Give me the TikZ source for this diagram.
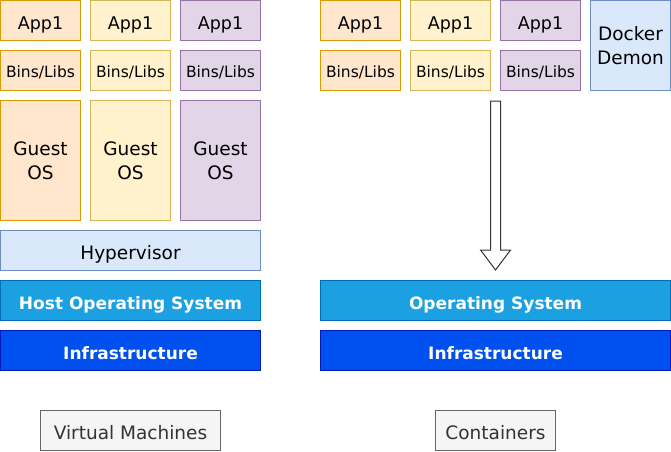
\documentclass[tikz,border=0pt]{standalone}
\usepackage{fontspec}
\setmainfont{DejaVu Sans}
\usetikzlibrary{calc}
\definecolor{orfill}{HTML}{FFE6CC}\definecolor{ordraw}{HTML}{D79B00}
\definecolor{yefill}{HTML}{FFF2CC}\definecolor{yedraw}{HTML}{D6B656}
\definecolor{pufill}{HTML}{E1D5E7}\definecolor{pudraw}{HTML}{9673A6}
\definecolor{blfill}{HTML}{DAE8FC}\definecolor{bldraw}{HTML}{6C8EBF}
\definecolor{osfill}{HTML}{1BA1E2}\definecolor{osdraw}{HTML}{006EAF}
\definecolor{infill}{HTML}{0050EF}\definecolor{indraw}{HTML}{001DBC}
\definecolor{grfill}{HTML}{F5F5F5}\definecolor{grdraw}{HTML}{666666}
\definecolor{grtext}{HTML}{333333}
\tikzset{
  box/.style={draw, line width=1pt, inner sep=0pt, align=center, minimum width=80pt, minimum height=40pt},
  oneline/.style={text height=18.5pt, text depth=0pt},
  orbox/.style={box, fill=orfill, draw=ordraw},
  yebox/.style={box, fill=yefill, draw=yedraw},
  pubox/.style={box, fill=pufill, draw=pudraw},
  blbox/.style={box, fill=blfill, draw=bldraw},
  osbox/.style={box, oneline, fill=osfill, draw=osdraw, text=white, font=\fontsize{17}{20}\selectfont\bfseries},
  inbox/.style={box, oneline, fill=infill, draw=indraw, text=white, font=\fontsize{17}{20}\selectfont\bfseries},
  grbox/.style={box, oneline, fill=grfill, draw=grdraw, text=grtext, font=\fontsize{18.5}{22}\selectfont},
  apptxt/.style={oneline, font=\fontsize{17.5}{20}\selectfont},
  bintxt/.style={text height=13pt, text depth=0pt, font=\fontsize{15.5}{18}\selectfont},
  bigtxt/.style={font=\fontsize{18.5}{24}\selectfont},
  hyptxt/.style={oneline, font=\fontsize{18.5}{22}\selectfont},
}
\begin{document}
\begin{tikzpicture}[x=1pt,y=-1pt]
\useasboundingbox (0,0) rectangle (671,451);
% Virtual machines
\node[orbox, apptxt] (appA) at (40.5,20.5) {App1};
\node[yebox, apptxt] (appB) at (130.5,20.5) {App1};
\node[pubox, apptxt] (appC) at (220.5,20.5) {App1};
\node[orbox, bintxt] (binA) at (40.5,70.5) {Bins/Libs};
\node[yebox, bintxt] (binB) at (130.5,70.5) {Bins/Libs};
\node[pubox, bintxt] (binC) at (220.5,70.5) {Bins/Libs};
\node[orbox, bigtxt, minimum height=120pt] (osA) at (40.5,160.5) {Guest\\OS};
\node[yebox, bigtxt, minimum height=120pt] (osB) at (130.5,160.5) {Guest\\OS};
\node[pubox, bigtxt, minimum height=120pt] (osC) at (220.5,160.5) {Guest\\OS};
\node[blbox, hyptxt, minimum width=260pt] (hyp) at (130.5,250.5) {Hypervisor};
\node[osbox, minimum width=260pt] (hostos) at (130.5,300.5) {Host Operating System};
\node[inbox, minimum width=260pt] (infraL) at (130.5,350.5) {Infrastructure};
\node[grbox, minimum width=180pt] (vm) at (130.5,430.5) {Virtual Machines};
% Containers
\node[orbox, apptxt] (cappA) at (360.5,20.5) {App1};
\node[yebox, apptxt] (cappB) at (450.5,20.5) {App1};
\node[pubox, apptxt] (cappC) at (540.5,20.5) {App1};
\node[orbox, bintxt] (cbinA) at (360.5,70.5) {Bins/Libs};
\node[yebox, bintxt] (cbinB) at (450.5,70.5) {Bins/Libs};
\node[pubox, bintxt] (cbinC) at (540.5,70.5) {Bins/Libs};
\node[blbox, bigtxt, minimum height=90pt] (docker) at (630.5,45.5) {Docker\\Demon};
\node[osbox, minimum width=350pt] (os) at (495.5,300.5) {Operating System};
\node[inbox, minimum width=350pt] (infraR) at (495.5,350.5) {Infrastructure};
\node[grbox, minimum width=120pt] (ct) at (495.5,430.5) {Containers};
% block arrow
\coordinate (arrTop) at ($(cbinB.south east)!0.5!(cbinC.south west)+(0,10)$);
\coordinate (arrTip) at ($(os.north)+(0,-10)$);
\draw[line width=1pt, draw=grtext, fill=white]
  ($(arrTop)+(-5,0)$) -- ($(arrTop)+(5,0)$) -- ($(arrTip)+(5,-20)$) -- ($(arrTip)+(15,-20)$)
  -- (arrTip) -- ($(arrTip)+(-15,-20)$) -- ($(arrTip)+(-5,-20)$) -- cycle;
\end{tikzpicture}
\end{document}
